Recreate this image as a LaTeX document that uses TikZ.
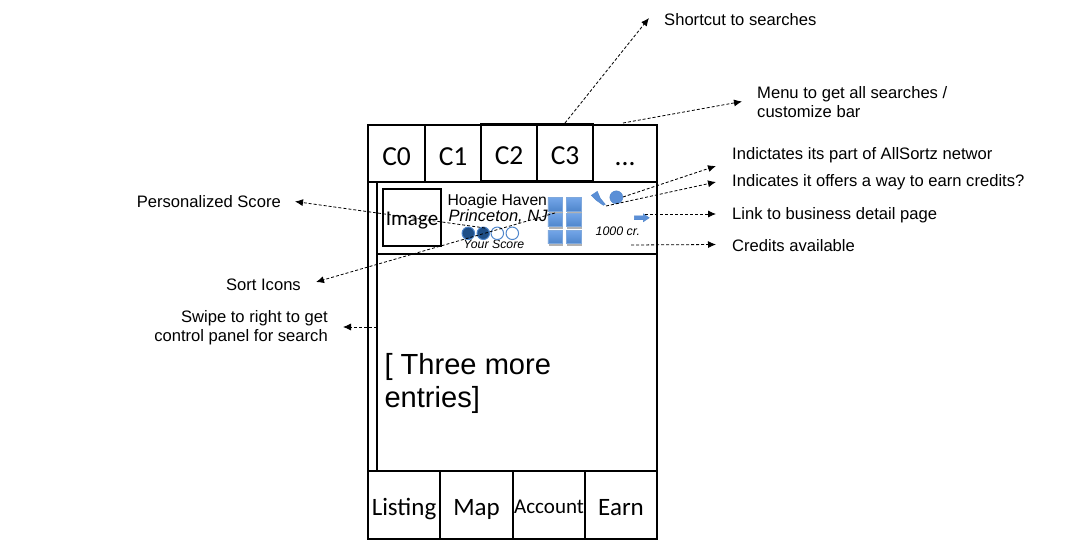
\documentclass[tikz,border=0pt]{standalone}
\usepackage{fontspec}
\setmainfont{Liberation Sans}
\newfontfamily\carlitofont{Carlito}
\usetikzlibrary{arrows.meta,shadows}
\definecolor{iconblue}{HTML}{5B8FD6}
\definecolor{icondark}{HTML}{1F4E86}
\definecolor{iconedge}{HTML}{7FA8DC}
\definecolor{icontop}{HTML}{74A6E8}
\definecolor{iconlow}{HTML}{4F86CC}
\tikzset{
  x=1pt,y=-1pt,
  cell/.style={draw=black,line width=1.5pt,inner sep=0pt,anchor=north west,text height=20pt,text depth=0pt,font=\carlitofont\fontsize{25}{25}\selectfont},
  toptab/.style={cell,text height=23pt,font=\carlitofont\fontsize{27.5}{27.5}\selectfont},
  plainbox/.style={draw=black,line width=1.5pt,inner sep=0pt,anchor=north west},
  note/.style={font=\fontsize{16.6}{19.5}\selectfont,inner sep=0pt,align=left},
  leader/.style={densely dashed,line width=0.8pt,-{Latex[length=8pt,width=7pt]}},
  sortcell/.style={draw=iconedge,top color=icontop,bottom color=iconlow,minimum width=14.5pt,minimum height=13.5pt,inner sep=0pt,general shadow={fill=black,opacity=.3,shadow xshift=1pt,shadow yshift=-2pt}},
  dot/.style={draw=iconlow,line width=1pt,circle,minimum size=12.5pt,inner sep=0pt},
}
\begin{document}
\begin{tikzpicture}
\useasboundingbox (0,0) rectangle (1069,540);
\fill[white] (0,0) rectangle (1069,540);
\begin{scope}[xshift=-0.7pt,yshift=0.7pt]
% Outer frame
\node[plainbox,minimum width=289pt,minimum height=414pt] (frame) at (368,125) {};
% Top tabs
\node[toptab,minimum width=57pt,minimum height=57pt] (c0) at (368,125) {C0};
\node[toptab,minimum width=56pt,minimum height=57pt] (c1) at (425,125) {C1};
\node[toptab,minimum width=56pt,minimum height=57pt] (c2) at (481,124) {C2};
\node[toptab,minimum width=56pt,minimum height=57pt] (c3) at (537,124) {C3};
\node[toptab,minimum width=64pt,minimum height=57pt] (c4) at (593,125) {...};
% Scroll rail
\node[plainbox,minimum width=9pt,minimum height=289pt] (rail) at (368,182) {};
% Entry row
\node[plainbox,minimum width=280pt,minimum height=72pt] (entry) at (377,182) {};
\node[plainbox,minimum width=58pt,minimum height=57pt,text height=15pt,text depth=0pt,font=\carlitofont\fontsize{21}{21}\selectfont] (img) at (383,189) {Image};
% Sort icon grid
\node[sortcell] (s1) at (555.7,205) {};
\node[sortcell] (s2) at (574.2,205) {};
\node[sortcell] (s3) at (555.7,220.5) {};
\node[sortcell] (s4) at (574.2,220.5) {};
\node[sortcell] (s5) at (555.7,237.5) {};
\node[sortcell] (s6) at (574.2,237.5) {};
\node[font=\fontsize{15.7}{15.7}\selectfont,inner sep=0pt,anchor=west] (name) at (448,202) {Hoagie Haven};
\node[font=\itshape\fontsize{16.5}{16.5}\selectfont,inner sep=0pt,anchor=west] (city) at (449,217) {Princeton, NJ};
\node[font=\itshape\fontsize{12.3}{12.3}\selectfont,inner sep=0pt] (yscore) at (494.5,245) {Your Score};
\node[font=\itshape\fontsize{12.4}{12.4}\selectfont,inner sep=0pt] (credit) at (618.5,232) {1000 cr.};
% Score dots
\node[dot,fill=icondark] (d1) at (469,234) {};
\node[dot,fill=icondark] (d2) at (484,234) {};
\node[dot,fill=white] (d3) at (498,234) {};
\node[dot,fill=white] (d4) at (513,234) {};
% Small icons
\fill[iconblue,draw=iconlow,line width=.4pt] (592,196) -- (598,192) -- (601,199) -- (606,205) -- (604,206) -- (597,201) -- cycle;
\node[circle,fill=iconblue,draw=iconlow,line width=.4pt,minimum size=13pt,inner sep=0pt] (face) at (617,198) {};
\fill[iconblue,draw=iconlow,line width=.4pt] (635,216.5) -- (644,216.5) -- (644,214.5) -- (650,218.5) -- (644,222.5) -- (644,220.5) -- (635,220.5) -- cycle;
% Body text
\node[font=\fontsize{29.1}{33}\selectfont,inner sep=0pt,align=left,anchor=north west] (more) at (385,354) {[ Three more\\entries]};
% Bottom tabs
\node[cell,minimum width=72pt,minimum height=68pt] (b0) at (368,471) {Listing};
\node[cell,minimum width=73pt,minimum height=68pt] (b1) at (440,471) {Map};
\node[cell,minimum width=72pt,minimum height=68pt,text height=16pt,font=\carlitofont\fontsize{21}{21}\selectfont] (b2) at (513,471) {Account};
\node[cell,minimum width=72pt,minimum height=68pt] (b3) at (585,471) {Earn};
\end{scope}
% Notes
\node[note,anchor=west] (n1) at (664,19.5) {Shortcut to searches};
\node[note,anchor=west] (n2) at (757,102) {Menu to get all searches /\\customize bar};
\node[note,anchor=west] (n3) at (732,155.5) {Indictates its part of AllSortz networ};
\node[note,anchor=west] (n4) at (732,182) {Indicates it offers a way to earn credits?};
\node[note,anchor=west] (n5) at (732,215.5) {Link to business detail page};
\node[note,anchor=west] (n6) at (732,245.5) {Credits available};
\node[note,anchor=east] (n7) at (281,201.5) {Personalized Score};
\node[note,anchor=east] (n8) at (301,284.5) {Sort Icons};
\node[note,anchor=east,align=right] (n9) at (328,327.5) {Swipe to right to get\\control panel for search};
% Connector ends
\coordinate (e1) at (565,123);
\coordinate (e2) at (623,123);
\coordinate (e3) at (623,197);
\coordinate (e4) at (606,206);
\coordinate (e5) at (645,214);
\coordinate (e6) at (631,245);
\coordinate (e7) at (485,228);
\coordinate (e8) at (555,213);
\coordinate (e9) at (377,327);
\coordinate (t1) at (649,18);
\coordinate (t2) at (742,101.5);
\coordinate (t3) at (716,166);
\coordinate (t4) at (716,182);
\coordinate (t5) at (716,214);
\coordinate (t6) at (716,244.5);
\coordinate (t7) at (295,201.5);
\coordinate (t8) at (316,282);
\coordinate (t9) at (343,327);
\draw[leader] (e1) -- (t1);
\draw[leader] (e2) -- (t2);
\draw[leader] (e3) -- (t3);
\draw[leader] (e4) -- (t4);
\draw[leader] (e5) -- (t5);
\draw[leader] (e6) -- (t6);
\draw[leader] (e7) -- (t7);
\draw[leader] (e8) -- (t8);
\draw[leader] (e9) -- (t9);
\end{tikzpicture}
\end{document}
